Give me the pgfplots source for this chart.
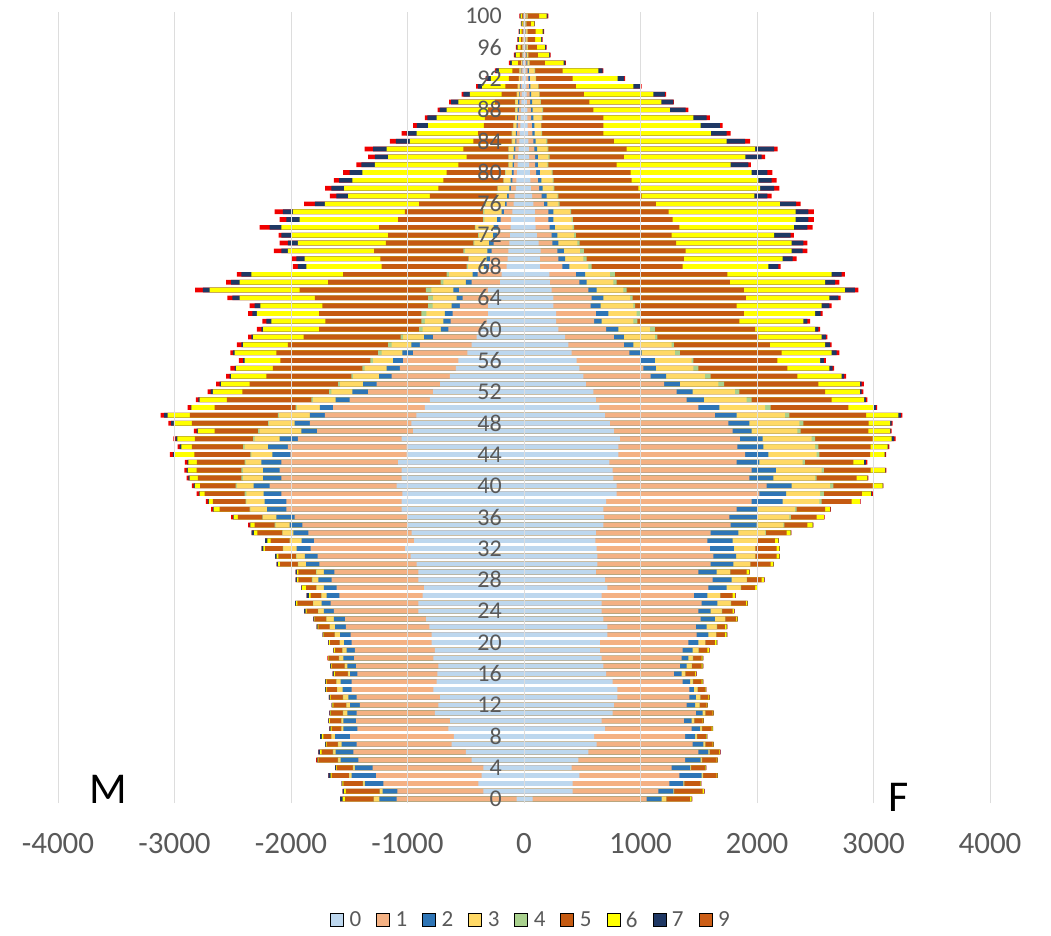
\documentclass[border=0pt]{standalone}
\usepackage{pgfplots}
\pgfplotsset{compat=1.18}
\usepackage{pgfplotstable}
\usepackage{fontspec}
\setmainfont{Carlito}
\definecolor{c0}{HTML}{BDD7EE}
\definecolor{c1}{HTML}{F4B183}
\definecolor{c2}{HTML}{2E75B6}
\definecolor{c3}{HTML}{FFD966}
\definecolor{c4}{HTML}{A9D18E}
\definecolor{c5}{HTML}{C55A11}
\definecolor{c6}{HTML}{FFFF00}
\definecolor{c7}{HTML}{1F3864}
\definecolor{c9}{HTML}{F00000}
\definecolor{c9leg}{HTML}{CC5E16}
\definecolor{tickgray}{HTML}{595959}
\definecolor{gridgray}{HTML}{DDDDDD}
\pgfplotsset{seg/.style={xbar, bar width=0.6, bar shift=0pt, draw=none, fill=#1, forget plot}}
% cumulative boundaries (from the centre outwards) of each group, per age
\pgfplotstableread{
a m0 m1 m2 m3 m4 m5 m6 m7 m9 f0 f1 f2 f3 f4 f5 f6 f7 f9
0 -63 -1093 -1242 -1287 -1290 -1536 -1556 -1579 -1579 74 1053 1182 1219 1222 1425 1439 1442 1445
1 -349 -1087 -1213 -1236 -1239 -1528 -1545 -1556 -1556 418 1153 1282 1285 1288 1534 1545 1548 1550
2 -392 -1207 -1365 -1379 -1382 -1551 -1558 -1565 -1565 418 1247 1368 1373 1376 1511 1517 1520 1522
3 -363 -1270 -1479 -1499 -1502 -1651 -1660 -1679 -1679 475 1333 1525 1534 1537 1654 1660 1663 1665
4 -349 -1299 -1451 -1465 -1468 -1608 -1612 -1622 -1622 409 1267 1425 1431 1434 1554 1560 1563 1565
5 -449 -1422 -1574 -1594 -1597 -1765 -1772 -1778 -1785 466 1382 1516 1525 1528 1654 1660 1663 1665
6 -498 -1465 -1616 -1637 -1640 -1737 -1750 -1765 -1765 552 1496 1582 1591 1594 1677 1682 1685 1687
7 -621 -1436 -1565 -1594 -1597 -1694 -1700 -1708 -1708 624 1448 1539 1554 1557 1619 1625 1628 1630
8 -601 -1493 -1622 -1651 -1654 -1722 -1735 -1751 -1751 601 1382 1468 1482 1485 1562 1568 1571 1573
9 -649 -1431 -1551 -1565 -1568 -1651 -1660 -1671 -1671 695 1439 1511 1525 1528 1611 1619 1622 1624
10 -635 -1442 -1551 -1565 -1568 -1665 -1672 -1679 -1679 667 1373 1439 1459 1462 1534 1539 1542 1544
11 -764 -1436 -1516 -1551 -1554 -1656 -1663 -1671 -1671 761 1476 1534 1554 1557 1619 1625 1628 1630
12 -735 -1408 -1493 -1522 -1525 -1637 -1644 -1651 -1651 772 1396 1468 1505 1508 1568 1574 1577 1579
13 -721 -1436 -1508 -1551 -1554 -1659 -1666 -1674 -1674 801 1419 1476 1511 1514 1582 1591 1594 1596
14 -778 -1479 -1556 -1602 -1605 -1694 -1700 -1708 -1708 801 1419 1459 1488 1491 1554 1560 1563 1565
15 -750 -1479 -1574 -1608 -1611 -1694 -1700 -1708 -1708 761 1362 1425 1448 1451 1525 1534 1537 1539
16 -744 -1431 -1493 -1508 -1511 -1622 -1632 -1642 -1642 704 1287 1353 1382 1385 1468 1476 1479 1481
17 -735 -1442 -1516 -1536 -1539 -1651 -1658 -1665 -1665 681 1339 1396 1439 1442 1525 1534 1537 1539
18 -778 -1459 -1551 -1585 -1588 -1674 -1680 -1682 -1688 667 1353 1410 1448 1451 1525 1534 1537 1539
19 -764 -1451 -1522 -1556 -1559 -1622 -1632 -1637 -1637 652 1362 1448 1496 1499 1574 1588 1591 1593
20 -792 -1479 -1545 -1579 -1582 -1665 -1672 -1679 -1679 652 1410 1496 1554 1557 1639 1654 1657 1659
21 -792 -1488 -1579 -1622 -1625 -1717 -1722 -1728 -1728 715 1482 1582 1648 1651 1725 1740 1743 1745
22 -813 -1528 -1622 -1665 -1668 -1765 -1772 -1780 -1780 715 1476 1568 1654 1657 1725 1740 1743 1745
23 -841 -1536 -1631 -1694 -1697 -1794 -1800 -1808 -1808 681 1516 1639 1725 1728 1820 1831 1834 1836
24 -907 -1631 -1717 -1765 -1768 -1865 -1875 -1888 -1888 667 1496 1602 1697 1700 1791 1802 1805 1807
25 -907 -1659 -1737 -1808 -1811 -1945 -1955 -1965 -1965 667 1525 1659 1774 1777 1905 1917 1920 1922
26 -870 -1585 -1694 -1737 -1740 -1831 -1845 -1865 -1865 667 1459 1574 1682 1685 1791 1811 1814 1816
27 -858 -1608 -1717 -1780 -1783 -1871 -1905 -1910 -1910 715 1582 1740 1860 1863 1983 2003 2006 2008
28 -907 -1651 -1765 -1814 -1820 -1937 -1947 -1960 -1960 695 1619 1782 1911 1914 2040 2060 2063 2065
29 -907 -1628 -1717 -1780 -1785 -1937 -1947 -1960 -1960 618 1496 1654 1768 1771 1911 1934 1937 1939
30 -921 -1757 -1871 -1937 -1940 -2094 -2110 -2123 -2123 629 1602 1797 1940 1943 2117 2140 2143 2145
31 -973 -1771 -1880 -1951 -1955 -2109 -2123 -2137 -2137 629 1625 1820 1983 1986 2169 2192 2195 2197
32 -1021 -1831 -1951 -2066 -2070 -2223 -2237 -2252 -2252 624 1596 1802 1983 1986 2169 2192 2195 2197
33 -944 -1802 -1908 -2008 -2012 -2174 -2203 -2223 -2223 612 1574 1791 2003 2006 2154 2183 2186 2188
34 -964 -1851 -1980 -2071 -2075 -2289 -2317 -2337 -2337 618 1602 1840 2069 2077 2254 2289 2292 2295
35 -1003 -1902 -2011 -2131 -2140 -2312 -2349 -2355 -2369 681 1774 1997 2226 2235 2432 2478 2481 2484
36 -994 -1968 -2126 -2240 -2246 -2455 -2493 -2498 -2513 687 1762 2003 2277 2290 2512 2575 2577 2580
37 -1051 -2040 -2206 -2349 -2355 -2613 -2664 -2670 -2685 681 1825 2003 2326 2340 2584 2627 2630 2635
38 -1051 -2040 -2226 -2384 -2389 -2670 -2704 -2713 -2730 704 1954 2220 2535 2555 2813 2884 2886 2890
39 -1043 -2083 -2235 -2384 -2398 -2742 -2785 -2790 -2810 795 2020 2249 2541 2575 2900 2980 2985 3000
40 -1094 -2183 -2321 -2464 -2475 -2779 -2825 -2835 -2850 795 2083 2297 2627 2655 2993 3079 3082 3085
41 -1051 -2083 -2240 -2412 -2427 -2800 -2870 -2880 -2895 767 1934 2140 2498 2512 2856 2947 2950 2955
42 -1051 -2097 -2240 -2412 -2427 -2810 -2885 -2895 -2915 761 1954 2163 2555 2575 2976 3099 3105 3110
43 -1080 -2083 -2255 -2389 -2398 -2808 -2880 -2890 -2910 732 1825 2020 2392 2412 2827 2918 2935 2947
44 -1008 -2006 -2160 -2341 -2349 -2830 -3000 -3015 -3039 810 1897 2097 2512 2535 2970 3096 3102 3108
45 -1008 -2026 -2197 -2398 -2412 -2850 -2940 -2955 -2973 810 1831 2054 2498 2527 2976 3122 3128 3136
46 -1051 -1940 -2097 -2312 -2326 -2826 -2975 -2990 -3010 824 1854 2049 2469 2498 2993 3156 3178 3190
47 -951 -1776 -1911 -2269 -2283 -2656 -2800 -2810 -2833 772 1791 1954 2346 2375 2956 3142 3148 3156
48 -966 -1839 -1968 -2189 -2197 -2850 -3005 -3030 -3053 738 1754 1934 2363 2398 2959 3143 3155 3165
49 -923 -1710 -1839 -2103 -2112 -2867 -3060 -3090 -3119 695 1639 1825 2240 2277 2936 3213 3235 3248
50 -851 -1639 -1753 -1948 -1960 -2656 -2856 -2862 -2887 647 1496 1677 2069 2117 2784 2998 3020 3032
51 -808 -1496 -1616 -1811 -1825 -2550 -2785 -2795 -2816 618 1396 1545 1911 1954 2641 2920 2935 2947
52 -780 -1338 -1473 -1653 -1673 -2418 -2670 -2690 -2715 595 1310 1448 1811 1848 2584 2884 2898 2913
53 -720 -1266 -1381 -1581 -1596 -2355 -2599 -2613 -2642 532 1202 1339 1668 1717 2527 2884 2898 2918
54 -636 -1137 -1243 -1467 -1481 -2212 -2513 -2527 -2556 509 1087 1219 1553 1602 2346 2727 2747 2764
55 -584 -1066 -1180 -1367 -1387 -2155 -2470 -2484 -2521 475 1024 1133 1453 1496 2260 2621 2650 2661
56 -564 -1037 -1123 -1295 -1318 -2091 -2398 -2412 -2447 452 996 1124 1439 1453 2174 2541 2575 2592
57 -487 -951 -1043 -1223 -1252 -2126 -2484 -2498 -2521 409 904 1010 1296 1339 2212 2641 2684 2707
58 -450 -894 -966 -1137 -1166 -2026 -2412 -2427 -2464 381 858 938 1267 1287 2111 2584 2627 2641
59 -407 -779 -857 -1037 -1060 -1891 -2326 -2341 -2369 352 772 858 1124 1144 2011 2555 2592 2604
60 -378 -650 -713 -871 -900 -1759 -2240 -2255 -2292 295 704 810 1081 1124 1983 2498 2526 2541
61 -321 -630 -693 -851 -880 -1705 -2169 -2212 -2246 275 601 667 938 973 1848 2398 2432 2455
62 -307 -613 -679 -837 -880 -1759 -2292 -2332 -2369 275 618 724 967 1001 1888 2498 2546 2564
63 -307 -550 -622 -785 -822 -1730 -2263 -2312 -2355 252 572 658 938 953 1825 2555 2621 2641
64 -278 -527 -579 -779 -822 -1796 -2441 -2504 -2547 252 581 681 910 933 1905 2621 2698 2718
65 -307 -556 -607 -794 -842 -1925 -2699 -2756 -2822 237 552 624 853 881 1888 2755 2841 2870
66 -206 -450 -499 -693 -716 -1682 -2441 -2513 -2556 223 475 538 767 795 1768 2584 2670 2707
67 -192 -398 -441 -642 -665 -1553 -2341 -2427 -2464 217 446 524 738 781 1745 2641 2727 2755
68 -150 -300 -345 -480 -493 -1223 -1868 -1940 -1983 137 329 389 552 581 1362 2097 2183 2203
69 -140 -290 -321 -470 -478 -1232 -1882 -1954 -1991 137 295 352 509 538 1373 2220 2306 2340
70 -134 -277 -315 -505 -521 -1286 -2026 -2083 -2146 143 286 343 480 515 1388 2297 2392 2432
71 -125 -260 -300 -425 -435 -1186 -1940 -2026 -2097 125 243 295 458 478 1305 2297 2398 2432
72 -120 -230 -265 -385 -393 -1166 -1997 -2083 -2106 110 237 286 429 445 1267 2146 2289 2317
73 -115 -220 -260 -415 -421 -1243 -2083 -2183 -2269 100 220 266 418 430 1333 2317 2432 2478
74 -110 -200 -230 -340 -350 -1080 -1925 -2040 -2097 95 210 252 409 420 1276 2332 2440 2489
75 -100 -170 -192 -340 -350 -1023 -1983 -2069 -2140 94 209 252 395 405 1242 2332 2440 2489
76 -90 -150 -163 -325 -335 -900 -1710 -1796 -1888 80 170 200 295 305 1133 2197 2335 2375
77 -80 -130 -145 -228 -235 -808 -1510 -1610 -1667 70 152 195 286 295 1010 1977 2089 2126
78 -70 -110 -125 -222 -229 -736 -1544 -1653 -1708 60 130 160 252 260 981 2026 2146 2191
79 -65 -100 -115 -172 -178 -693 -1473 -1587 -1633 55 120 150 246 255 924 2011 2126 2169
80 -60 -90 -105 -157 -163 -665 -1387 -1496 -1553 50 105 137 237 245 916 1954 2089 2131
81 -55 -85 -97 -130 -135 -564 -1281 -1395 -1438 45 95 120 200 210 795 1774 1926 1948
82 -50 -80 -92 -130 -135 -493 -1166 -1281 -1338 45 95 120 210 220 858 1900 2040 2069
83 -47 -75 -87 -130 -135 -521 -1180 -1295 -1367 42 90 112 200 210 881 1983 2146 2177
84 -40 -65 -75 -100 -106 -435 -980 -1100 -1152 38 80 100 190 200 772 1740 1897 1940
85 -37 -60 -70 -100 -106 -393 -922 -1008 -1051 35 72 92 150 155 681 1605 1740 1774
86 -32 -55 -64 -88 -92 -344 -822 -920 -951 32 68 88 145 150 681 1516 1682 1705
87 -28 -50 -60 -73 -77 -335 -751 -830 -851 30 62 80 150 158 681 1453 1568 1596
88 -25 -45 -55 -72 -77 -307 -665 -725 -742 28 58 75 155 165 595 1253 1388 1410
89 -22 -40 -50 -73 -77 -249 -564 -625 -642 25 52 70 140 145 561 1179 1282 1287
90 -18 -33 -40 -60 -63 -192 -464 -520 -536 22 48 62 130 135 515 1110 1210 1219
91 -16 -30 -36 -52 -55 -160 -360 -395 -410 20 42 55 120 125 446 939 1001 1010
92 -14 -25 -30 -43 -45 -130 -285 -315 -330 18 38 50 100 105 418 804 860 867
93 -12 -22 -27 -38 -40 -100 -215 -240 -250 15 32 42 90 95 332 638 675 681
94 -8 -14 -17 -24 -25 -50 -105 -120 -129 10 20 28 45 48 180 340 355 360
95 -6 -10 -12 -17 -18 -35 -70 -80 -86 8 16 22 35 37 120 215 225 229
96 -5 -8 -10 -14 -15 -28 -55 -64 -69 8 15 20 32 34 110 180 190 195
97 -4 -7 -8 -11 -12 -24 -45 -52 -57 8 14 18 28 30 95 148 156 160
98 -3 -6 -7 -9 -10 -20 -36 -42 -46 8 14 18 28 30 100 160 168 172
99 -2 -3 -4 -5 -6 -11 -20 -24 -26 5 10 12 18 20 60 88 92 94
100 -2 -4 -5 -7 -8 -16 -30 -36 -40 8 16 20 30 32 130 195 202 209
}\pyr
\begin{document}
\begin{tikzpicture}
\useasboundingbox (-58bp,-133bp) rectangle (993bp,803bp);
\begin{axis}[
  at={(0,0)}, anchor=south west,
  scale only axis, width=932bp, height=791bp,
  xmin=-4000, xmax=4000, ymin=-0.5, ymax=100.5,
  clip=false,
  axis on top,
  xtick={-4000,-3000,-2000,-1000,0,1000,2000,3000,4000},
  ytick={0,4,...,100},
  xmajorgrids, grid style={draw=gridgray, line width=0.8bp},
  axis line style={draw=none},
  major tick length=0pt,
  /pgf/number format/assume math mode=true,
  /pgf/number format/1000 sep={},
  xticklabel style={font=\fontsize{31bp}{36bp}\selectfont, text=tickgray, inner sep=0pt, yshift=-30bp},
  yticklabel style={font=\fontsize{24bp}{28bp}\selectfont, text=tickgray, anchor=east, inner sep=0pt, xshift=444bp},
  legend columns=9,
  legend image code/.code={\fill[#1] (0bp,-6.5bp) rectangle (13bp,6.5bp);},
  legend style={at={(0.5064,-0.1479)}, anchor=center, draw=none, fill=none,
    font=\fontsize{23bp}{27bp}\selectfont, text=tickgray,
    nodes={inner sep=0pt},
    /tikz/every odd column/.append style={column sep=6bp},
    /tikz/every even column/.append style={column sep=15bp}},
]
\addlegendimage{fill=c0}\addlegendentry{0}
\addlegendimage{fill=c1}\addlegendentry{1}
\addlegendimage{fill=c2}\addlegendentry{2}
\addlegendimage{fill=c3}\addlegendentry{3}
\addlegendimage{fill=c4}\addlegendentry{4}
\addlegendimage{fill=c5}\addlegendentry{5}
\addlegendimage{fill=c6}\addlegendentry{6}
\addlegendimage{fill=c7}\addlegendentry{7}
\addlegendimage{fill=c9leg}\addlegendentry{9}
% men (outermost group first, inner groups drawn over it)
\addplot[seg=c9] table[x=m9,y=a]{\pyr};
\addplot[seg=c7] table[x=m7,y=a]{\pyr};
\addplot[seg=c6] table[x=m6,y=a]{\pyr};
\addplot[seg=c5] table[x=m5,y=a]{\pyr};
\addplot[seg=c4] table[x=m4,y=a]{\pyr};
\addplot[seg=c3] table[x=m3,y=a]{\pyr};
\addplot[seg=c2] table[x=m2,y=a]{\pyr};
\addplot[seg=c1] table[x=m1,y=a]{\pyr};
\addplot[seg=c0] table[x=m0,y=a]{\pyr};
% women
\addplot[seg=c9] table[x=f9,y=a]{\pyr};
\addplot[seg=c7] table[x=f7,y=a]{\pyr};
\addplot[seg=c6] table[x=f6,y=a]{\pyr};
\addplot[seg=c5] table[x=f5,y=a]{\pyr};
\addplot[seg=c4] table[x=f4,y=a]{\pyr};
\addplot[seg=c3] table[x=f3,y=a]{\pyr};
\addplot[seg=c2] table[x=f2,y=a]{\pyr};
\addplot[seg=c1] table[x=f1,y=a]{\pyr};
\addplot[seg=c0] table[x=f0,y=a]{\pyr};
\node[font=\fontsize{44bp}{50bp}\selectfont, inner sep=0pt] at (axis cs:-3571,1.3) {M};
\node[font=\fontsize{44bp}{50bp}\selectfont, inner sep=0pt] at (axis cs:3219,0.2) {F};
\end{axis}
\end{tikzpicture}
\end{document}
